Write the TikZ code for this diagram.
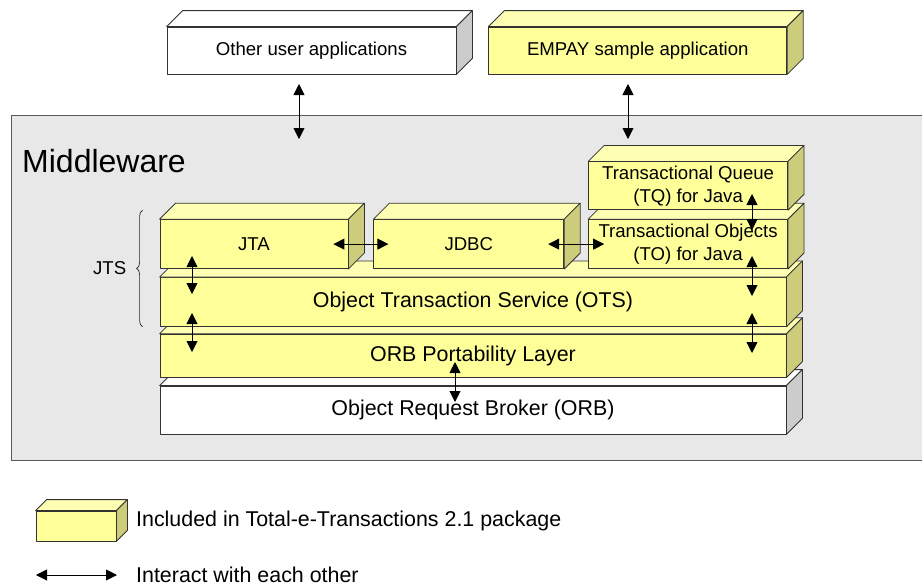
\documentclass[tikz,border=0pt]{standalone}
\usepackage{fontspec}
\setmainfont{Liberation Sans}
\usetikzlibrary{arrows.meta,positioning,decorations.pathreplacing}

\definecolor{slabyellow}{HTML}{FFFF99}
\definecolor{slabtop}{HTML}{FFFFB3}
\definecolor{slabside}{HTML}{CCCC7A}
\definecolor{slabgrey}{HTML}{CCCCCC}
\definecolor{mwgrey}{HTML}{E8E8E8}

% top and right faces of a slab node
\newcommand{\slabfaces}[4][16]{%
  \draw[slabedge, fill=#3] (#2.north west) -- ++(#1,-#1) -- ([shift={(#1,-#1)}]#2.north east) -- (#2.north east) -- cycle;
  \draw[slabedge, fill=#4] (#2.north east) -- ++(#1,-#1) -- ([shift={(#1,-#1)}]#2.south east) -- (#2.south east) -- cycle;
}

\begin{document}
\begin{tikzpicture}[
    x=1pt, y=-1pt,
    slabedge/.style={draw=black!80, line width=0.8pt, line join=round},
    slab/.style={slabedge, rectangle, inner sep=0pt, align=center, font=\fontsize{18.6}{23}\selectfont},
    yellowslab/.style={slab, fill=slabyellow},
    whiteslab/.style={slab, fill=white},
    wide/.style={minimum width=626pt, font=\fontsize{21.4}{24}\selectfont},
    note/.style={anchor=west, inner sep=0pt, font=\fontsize{21.4}{24}\selectfont},
    link/.style={{Triangle[length=11pt,width=11pt]}-{Triangle[length=11pt,width=11pt]}, line width=0.9pt}]
    \useasboundingbox (0,0) rectangle (922,587);

    % middleware area
    \node[draw=black!65, fill=mwgrey, anchor=north west, inner sep=0pt, minimum width=914pt, minimum height=345pt] (mw) at (11,115) {};
    \node[anchor=base west, inner sep=0pt, font=\fontsize{32}{36}\selectfont] (mwlabel) at (22,172) {Middleware};

    % applications
    \node[whiteslab, minimum width=289pt, minimum height=47pt] (other) at (311.5,50.5) {Other user applications};
    \slabfaces{other}{white}{slabgrey}
    \node[yellowslab, minimum width=298pt, minimum height=47pt, right=32pt of other] (empay) {EMPAY sample application};
    \slabfaces{empay}{slabtop}{slabside}

    % layers, bottom up
    \node[whiteslab, wide, minimum height=48pt] (orb) at (473,410) {Object Request Broker (ORB)};
    \slabfaces{orb}{white}{slabgrey}
    \node[yellowslab, wide, minimum height=43pt, above=8pt of orb] (orbpl) {ORB Portability Layer};
    \slabfaces{orbpl}{slabtop}{slabside}
    \node[yellowslab, wide, minimum height=49pt, above=7pt of orbpl] (ots) {Object Transaction Service (OTS)};
    \slabfaces{ots}{slabtop}{slabside}
    \node[yellowslab, minimum width=188pt, minimum height=49pt, above right=8pt and 0pt of ots.north west] (jta) {JTA};
    \slabfaces{jta}{slabtop}{slabside}
    \node[yellowslab, minimum width=190pt, minimum height=49pt, right=25pt of jta] (jdbc) {JDBC};
    \slabfaces{jdbc}{slabtop}{slabside}
    \node[yellowslab, minimum width=199pt, minimum height=49pt, right=24pt of jdbc] (to) {Transactional Objects\\(TO) for Java};
    \slabfaces{to}{slabtop}{slabside}
    \node[yellowslab, minimum width=199pt, minimum height=48pt, above=9pt of to] (tq) {Transactional Queue\\(TQ) for Java};
    \slabfaces{tq}{slabtop}{slabside}

    % JTS brace
    \draw[decorate, decoration={brace, amplitude=6pt}, black!85, line width=0.7pt]
        ([xshift=-17pt]ots.south west) -- ([xshift=-17pt, yshift=9pt]jta.north west)
        node[midway, left=16pt, inner sep=0pt, text=black, font=\fontsize{18.6}{21}\selectfont] (jts) {JTS};

    % connector ends
    \coordinate (otherport) at (299,84);
    \coordinate (mwport1) at (299,139);
    \coordinate (empayport) at (628,84);
    \coordinate (mwport2) at (628,139);
    \coordinate (tqport) at (752,194);
    \coordinate (toport1) at (752,230);
    \coordinate (toport2) at (752,256);
    \coordinate (otsport1) at (752,296);
    \coordinate (otsport2) at (752,313);
    \coordinate (orbplport1) at (752,353);
    \coordinate (jtaport) at (192,256);
    \coordinate (otsport3) at (192,294);
    \coordinate (otsport4) at (192,313);
    \coordinate (orbplport2) at (192,352);
    \coordinate (orbplport3) at (455,362);
    \coordinate (orbport) at (455,402);

    \draw[link] (otherport) -- (mwport1);
    \draw[link] (empayport) -- (mwport2);
    \draw[link] ([xshift=-15pt]jta.east) -- ([xshift=15pt]jdbc.west);
    \draw[link] ([xshift=-16pt]jdbc.east) -- ([xshift=16pt]to.west);
    \draw[link] (tqport) -- (toport1);
    \draw[link] (toport2) -- (otsport1);
    \draw[link] (otsport2) -- (orbplport1);
    \draw[link] (jtaport) -- (otsport3);
    \draw[link] (otsport4) -- (orbplport2);
    \draw[link] (orbplport3) -- (orbport);

    % legend
    \node[yellowslab, minimum width=80pt, minimum height=30pt] (keybox) at (76,526) {};
    \slabfaces[11]{keybox}{slabtop}{slabside}
    \node[note] (keytext) at (136,521) {Included in Total-e-Transactions 2.1 package};
    \coordinate (keyleft) at (36,575);
    \coordinate (keyright) at (117,575);
    \draw[link] (keyleft) -- (keyright);
    \node[note] (linktext) at (136,575) {Interact with each other};
\end{tikzpicture}
\end{document}
